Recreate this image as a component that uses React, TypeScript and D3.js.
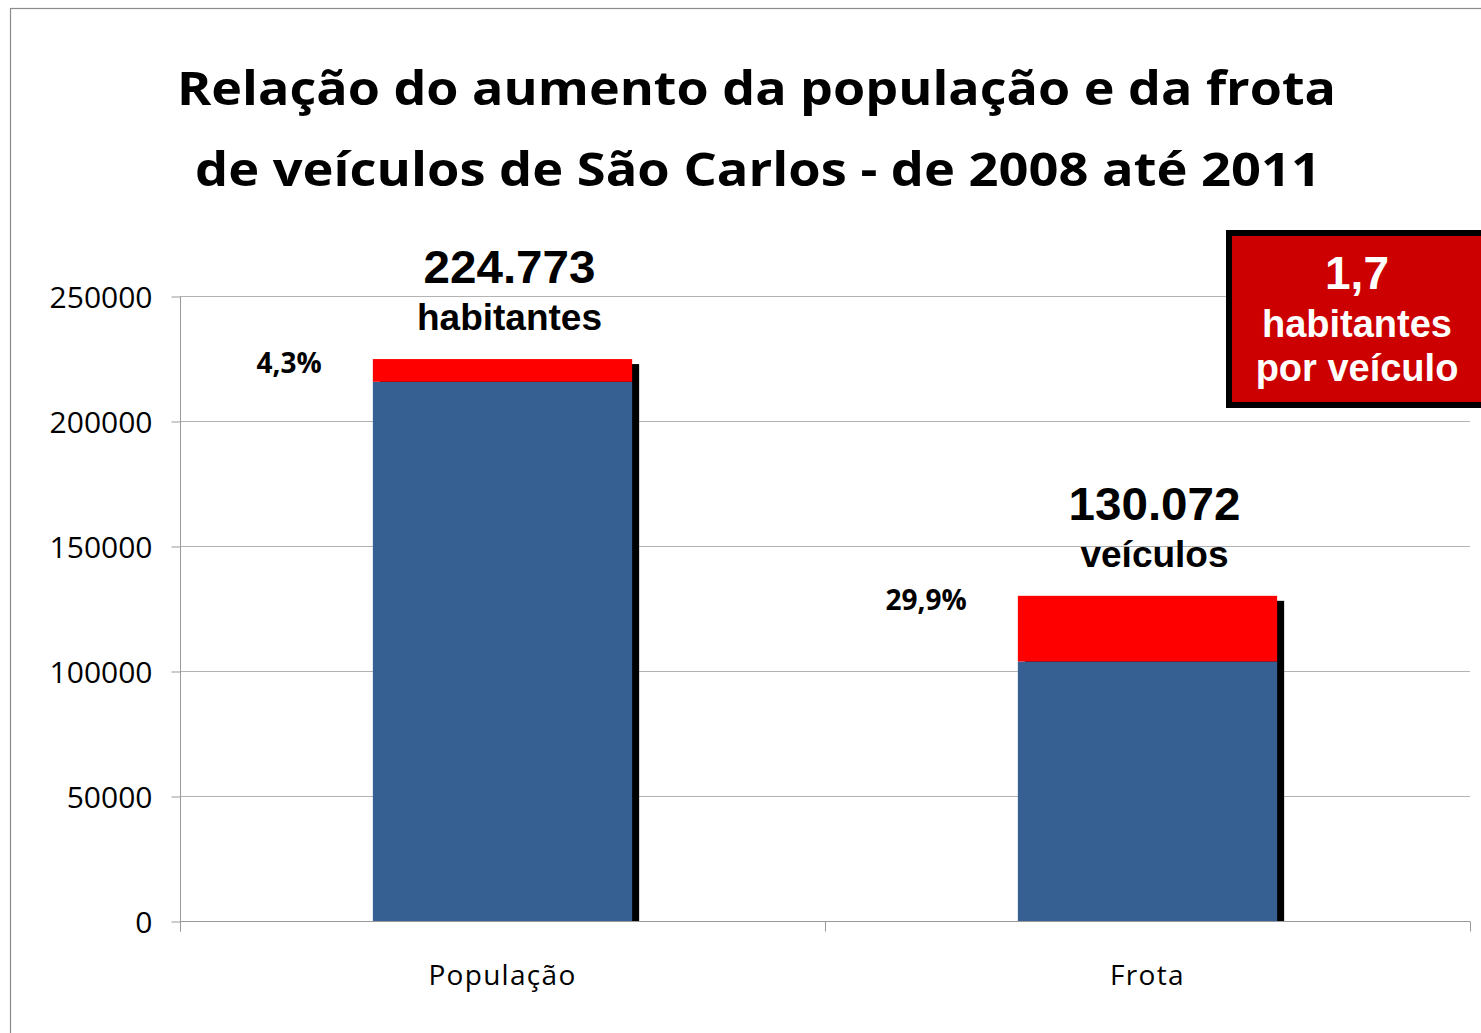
import { useEffect, useRef } from 'react';
import * as d3 from 'd3';

const W = 1481;
const H = 1033;

const TITLE_LINES = [
  'Relação do aumento da população e da frota',
  'de veículos de São Carlos - de 2008 até 2011',
];

// categories and stacked values (2008 base + growth up to 2011)
const categories = ['População', 'Frota'];
const baseValues = [215700, 103800];
const growthValues = [9073, 26272];
const totalLabels = ['224.773', '130.072'];
const unitLabels = ['habitantes', 'veículos'];
const pctLabels = ['4,3%', '29,9%'];
const yTicks = [0, 50000, 100000, 150000, 200000, 250000];
const boxLines = ['1,7', 'habitantes', 'por veículo'];

const PLOT = { left: 180, right: 1470, top: 296, bottom: 921 };
const BLUE = '#376092';
const RED = '#ff0000';
const GRID = '#b3b3b3';
const CALIBRI = '"Open Sans", "Liberation Sans", sans-serif';
const ARIAL = '"Liberation Sans", Arial, sans-serif';

export default function App() {
  const svgRef = useRef<SVGSVGElement | null>(null);

  useEffect(() => {
    document.body.style.margin = '0';
    const svg = d3.select(svgRef.current);
    svg.selectAll('*').remove();

    const x = d3.scaleBand<string>()
      .domain(categories)
      .range([PLOT.left, PLOT.right])
      .paddingInner(0.598)
      .paddingOuter(0.299);
    const y = d3.scaleLinear().domain([0, 250000]).range([PLOT.bottom, PLOT.top]);

    svg.append('rect').attr('width', W).attr('height', H).attr('fill', '#fff');

    // outer chart border
    svg.append('rect')
      .attr('x', 10.5).attr('y', 8.5).attr('width', W + 20).attr('height', H + 20)
      .attr('fill', 'none').attr('stroke', '#8c8c8c').attr('stroke-width', 1.2);

    // title
    const titleY = [105, 186];
    const titleX = [177, 195];
    const titleLen = [1159, 1126];
    TITLE_LINES.forEach((t, i) => {
      svg.append('text')
        .attr('x', titleX[i]).attr('y', titleY[i])
        .attr('font-family', CALIBRI).attr('font-weight', 700).attr('font-size', 47)
        .attr('textLength', titleLen[i]).attr('lengthAdjust', 'spacingAndGlyphs')
        .attr('fill', '#000')
        .text(t);
    });

    // gridlines
    svg.append('g').selectAll('line').data(yTicks.filter(d => d > 0)).join('line')
      .attr('x1', PLOT.left).attr('x2', PLOT.right)
      .attr('y1', d => Math.round(y(d)) + 0.5).attr('y2', d => Math.round(y(d)) + 0.5)
      .attr('stroke', GRID).attr('stroke-width', 1);

    // y axis
    const yAxis = svg.append('g').attr('transform', `translate(${PLOT.left + 0.5},0.5)`)
      .call(d3.axisLeft(y).tickValues(yTicks).tickSize(9).tickPadding(19).tickFormat(d => String(d)));
    yAxis.select('.domain').attr('stroke', '#999').attr('d', `M0,${PLOT.top}V${PLOT.bottom + 10}`);
    yAxis.selectAll('.tick line').attr('stroke', '#999');
    yAxis.selectAll('.tick text')
      .attr('font-family', CALIBRI).attr('font-size', 30).attr('fill', '#000').attr('dy', '0.36em');

    // x axis
    const xAxis = svg.append('g').attr('transform', `translate(0,${PLOT.bottom + 0.5})`);
    xAxis.append('line').attr('x1', PLOT.left).attr('x2', PLOT.right)
      .attr('stroke', '#999');
    const bounds = [PLOT.left, ...categories.map(c => (x(c) as number) + x.bandwidth() + (x.step() - x.bandwidth()) / 2)];
    xAxis.selectAll('line.tk').data(bounds).join('line').attr('class', 'tk')
      .attr('x1', d => Math.round(d) + 0.5).attr('x2', d => Math.round(d) + 0.5)
      .attr('y1', 0).attr('y2', 10).attr('stroke', '#999');
    xAxis.selectAll('text').data(categories).join('text')
      .attr('x', d => (x(d) as number) + x.bandwidth() / 2)
      .attr('y', 63)
      .attr('text-anchor', 'middle')
      .attr('font-family', CALIBRI).attr('font-size', 28).attr('letter-spacing', 1.3).attr('fill', '#000')
      .text(d => d);

    const bars = svg.append('g');
    categories.forEach((c, i) => {
      const bx = x(c) as number;
      const bw = x.bandwidth();
      const total = baseValues[i] + growthValues[i];
      // shadow
      bars.append('rect')
        .attr('x', bx + 7).attr('y', y(total) + 5)
        .attr('width', bw).attr('height', PLOT.bottom - y(total) - 5)
        .attr('fill', '#000');
      // base
      bars.append('rect')
        .attr('x', bx).attr('y', y(baseValues[i]))
        .attr('width', bw).attr('height', PLOT.bottom - y(baseValues[i]))
        .attr('fill', BLUE);
      // growth
      bars.append('rect')
        .attr('x', bx).attr('y', y(total))
        .attr('width', bw).attr('height', y(baseValues[i]) - y(total))
        .attr('fill', RED);

      const cx = bx + bw / 2 + 7;
      bars.append('text')
        .attr('x', cx).attr('y', y(total) - 76)
        .attr('text-anchor', 'middle')
        .attr('font-family', ARIAL).attr('font-weight', 700).attr('font-size', 46)
        .attr('textLength', 172).attr('lengthAdjust', 'spacingAndGlyphs')
        .text(totalLabels[i]);
      bars.append('text')
        .attr('x', cx).attr('y', y(total) - 29)
        .attr('text-anchor', 'middle')
        .attr('font-family', ARIAL).attr('font-weight', 700).attr('font-size', 37)
        .text(unitLabels[i]);
      bars.append('text')
        .attr('x', bx - 51).attr('y', y(total) + 14)
        .attr('text-anchor', 'end')
        .attr('font-family', CALIBRI).attr('font-weight', 700).attr('font-size', 28)
        .text(pctLabels[i]);
    });

    // ratio box
    const box = svg.append('g');
    box.append('rect')
      .attr('x', 1229).attr('y', 233).attr('width', 280).attr('height', 172)
      .attr('fill', '#cc0000').attr('stroke', '#000').attr('stroke-width', 6);
    const boxY = [289, 337, 381];
    const boxSize = [46, 38, 38];
    boxLines.forEach((t, i) => {
      box.append('text')
        .attr('x', 1357).attr('y', boxY[i])
        .attr('text-anchor', 'middle')
        .attr('font-family', ARIAL).attr('font-weight', 700).attr('font-size', boxSize[i])
        .attr('fill', '#fff')
        .text(t);
    });
  }, []);

  return <svg ref={svgRef} width={W} height={H} style={{ display: 'block', overflow: 'hidden' }} />;
}
